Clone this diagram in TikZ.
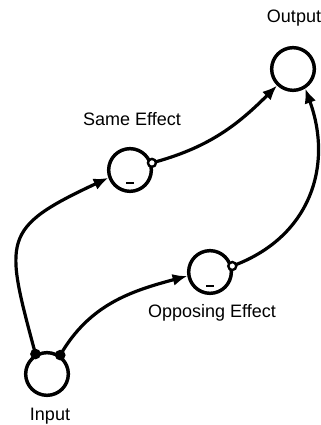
\documentclass[tikz,border=0pt]{standalone}
\usepackage{fontspec}
\setmainfont{Liberation Sans}
\usetikzlibrary{arrows.meta}
\begin{document}
\begin{tikzpicture}[x=0.75pt, y=0.75pt,
    unita/.style={draw=black, circle, line width=2.6pt, minimum size=32pt, inner sep=0pt},
    etichetta/.style={font=\fontsize{13.5}{16}\selectfont},
    pieno/.style={circle, fill=black, minimum size=8pt, inner sep=0pt},
    vuoto/.style={circle, draw=black, fill=white, line width=1.8pt, minimum size=6pt, inner sep=0pt},
    legame/.style={line width=2.4pt, -{Latex[length=11pt,width=9pt]}},
    trattino/.style={line width=1pt}]

  \useasboundingbox (0,0) rectangle (321,425);

  \node[unita] (uscita)   at (293,356) {};
  \node[unita] (simile)   at (130,255) {};
  \node[unita] (opposto)  at (210,153) {};
  \node[unita] (ingresso) at (47,51)   {};

  \node[etichetta] at (294,407) {Output};
  \node[etichetta] at (132,306) {Same Effect};
  \node[etichetta] at (212,112) {Opposing Effect};
  \node[etichetta] at (50,9)    {Input};

  \draw[trattino] ([shift={(-4,-13)}]simile.center) -- ++(8,0);
  \draw[trattino] ([shift={(-4,-14)}]opposto.center) -- ++(8,0);

  \draw[legame] (ingresso.120) to[out=105, in=205, looseness=1.6] (simile.200);
  \draw[legame] (ingresso.55) to[out=60, in=195] (opposto.190);
  \draw[legame] (simile.18) to[out=15, in=225] (uscita.226);
  \draw[legame] (opposto.15) to[out=20, in=290, looseness=1.1] (uscita.302);

  \node[pieno] at (ingresso.120) {};
  \node[pieno] at (ingresso.55)  {};
  \node[vuoto] at (simile.18)    {};
  \node[vuoto] at (opposto.15)   {};
\end{tikzpicture}
\end{document}
